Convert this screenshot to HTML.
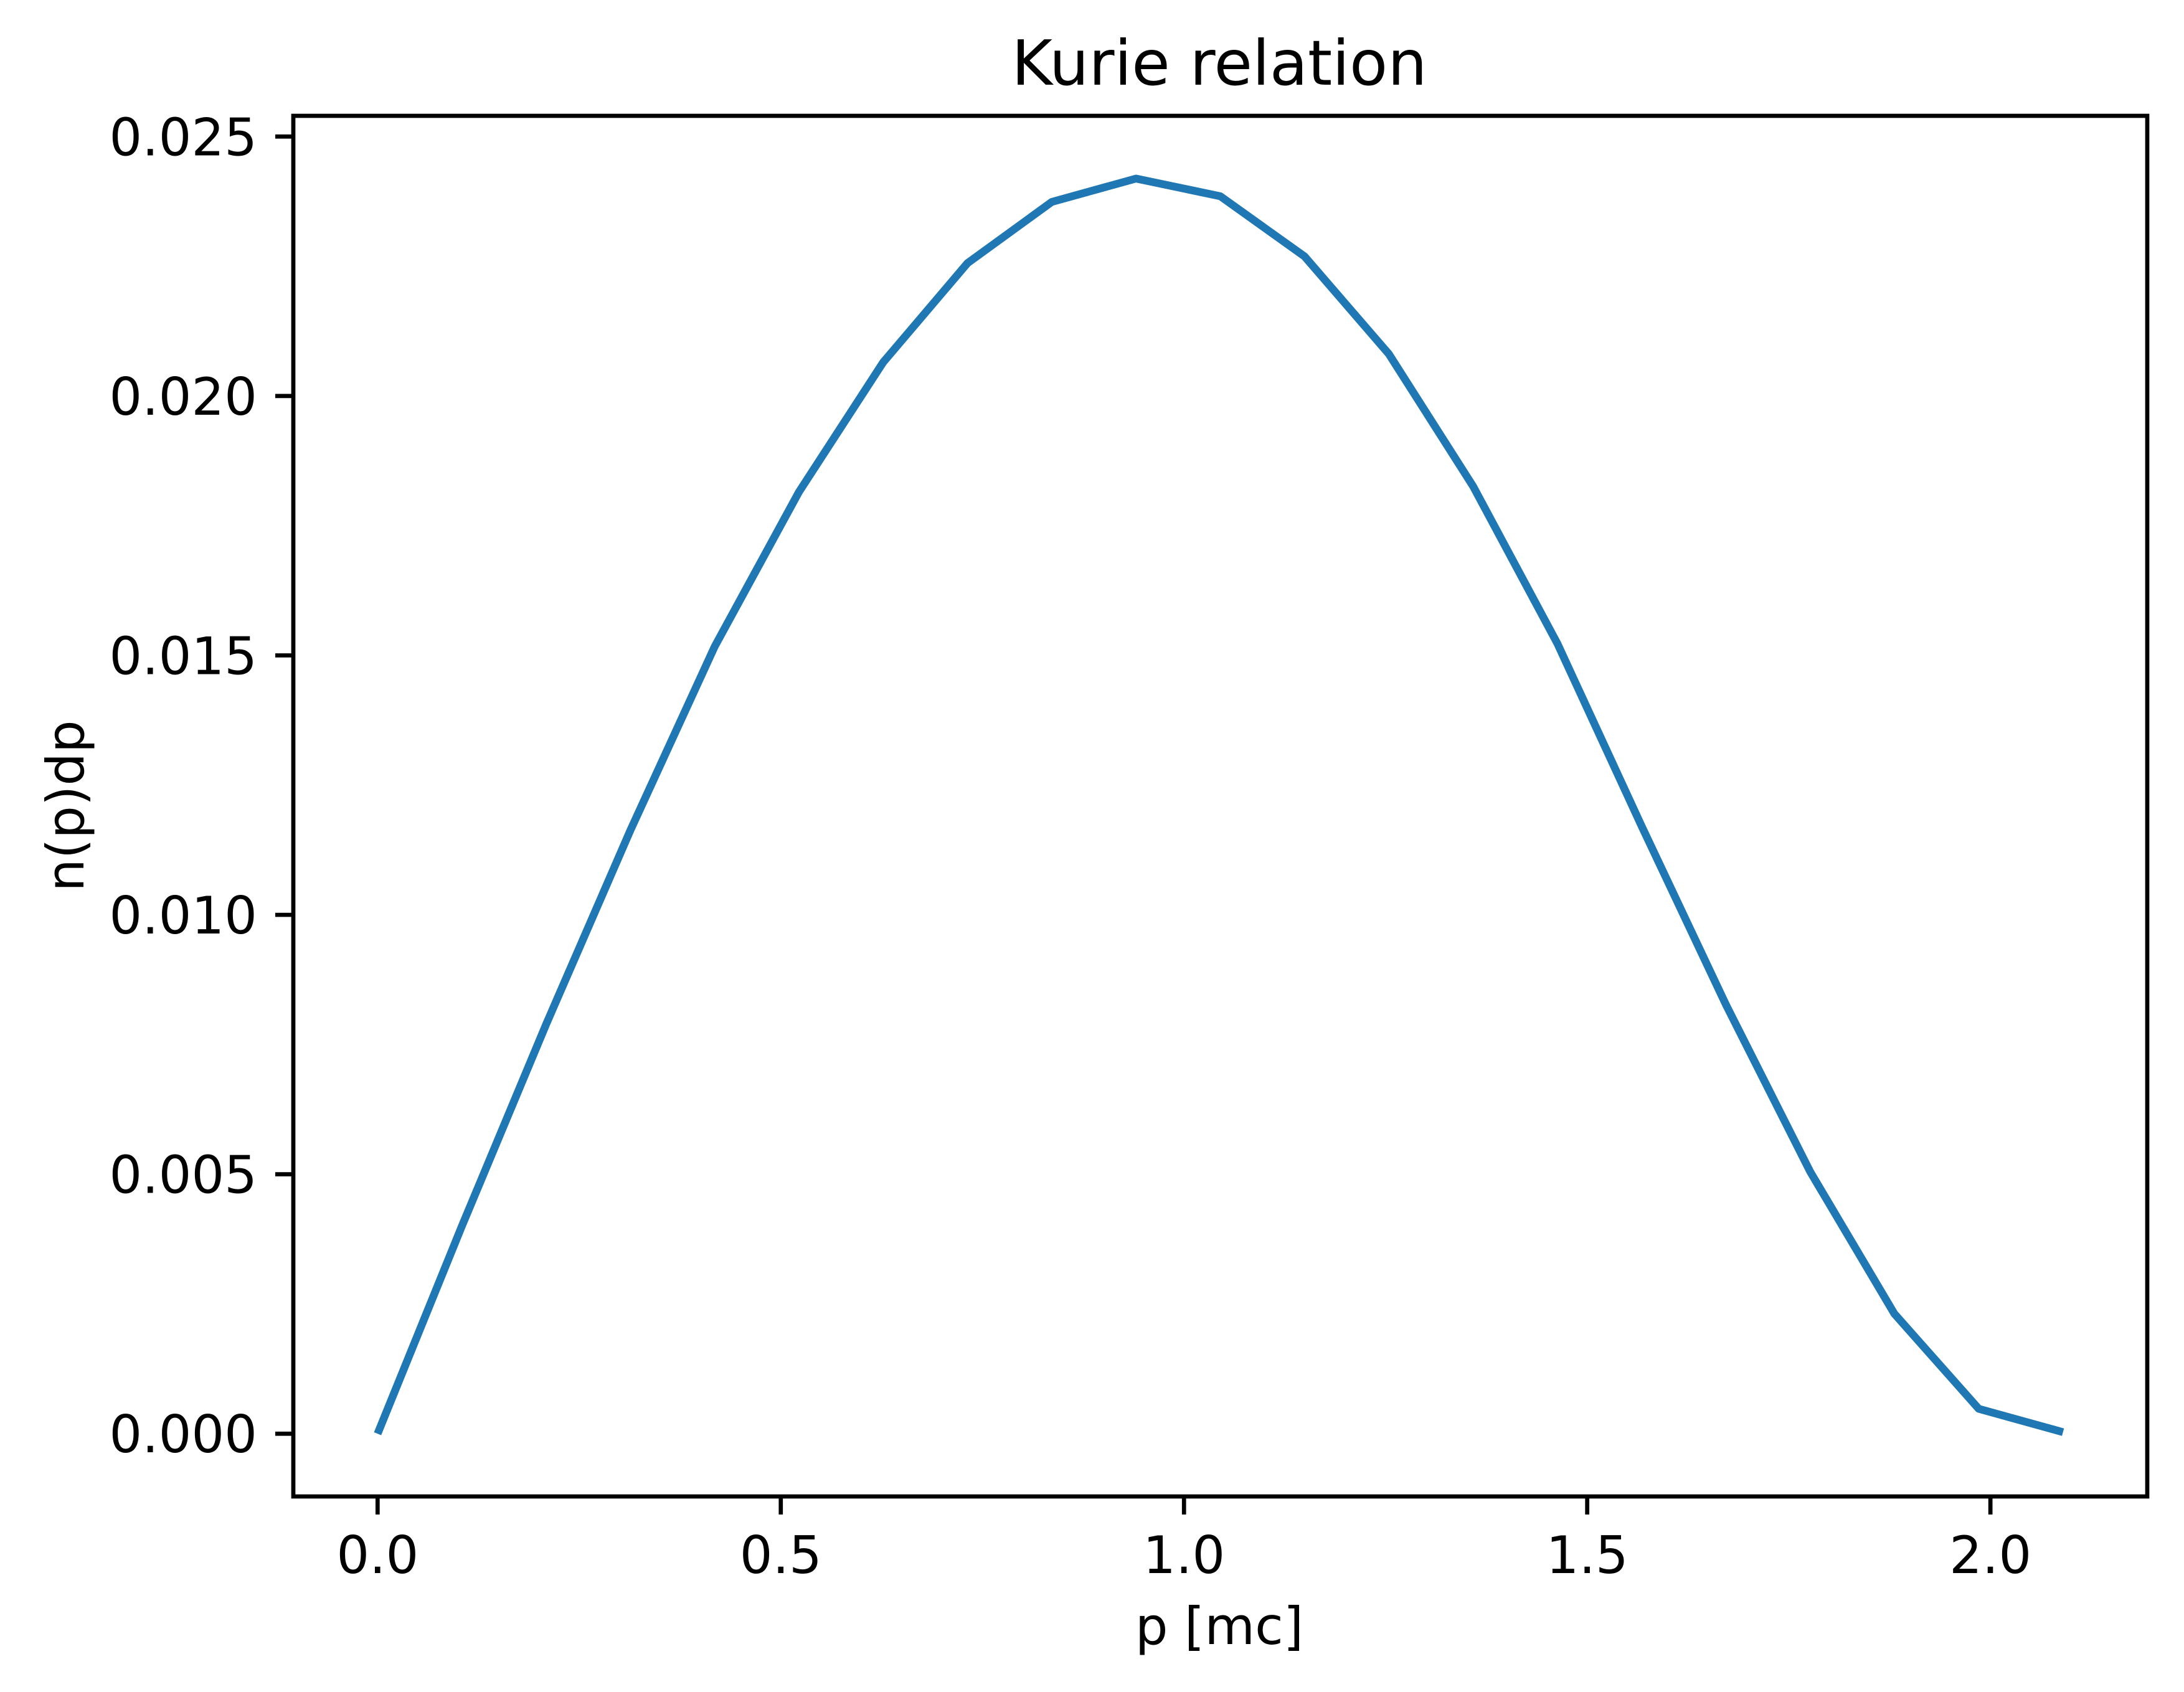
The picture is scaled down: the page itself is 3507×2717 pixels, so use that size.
<!DOCTYPE html>
<html><head><meta charset="utf-8"><style>
html,body{margin:0;padding:0;background:#fff;}
svg{display:block;}
text{font-family:"DejaVu Sans","Liberation Sans",sans-serif;fill:#000;}
</style></head><body>
<svg id="chart" width="3507" height="2717" viewBox="0 0 3507 2717" xmlns="http://www.w3.org/2000/svg">
<rect width="3507" height="2717" fill="#fff"/>
<text x="1958" y="136" font-size="100" text-anchor="middle">Kurie relation</text>
<text x="1958" y="2640" font-size="83" text-anchor="middle">p [mc]</text>
<text x="0" y="0" font-size="83" text-anchor="middle" transform="translate(134,1294) rotate(-90)">n(p)dp</text>
<g id="plot"></g>
</svg>
<script>
const pValues = [0,0.1045,0.209,0.3135,0.418,0.5225,0.627,0.7315,0.836,0.9405,1.045,1.1495,1.254,1.3585,1.463,1.5675,1.672,1.7765,1.881,1.9855,2.09];
const nValues = [0,0.0040,0.00789,0.01163,0.01517,0.01815,0.02065,0.02256,0.02374,0.02419,0.02385,0.02269,0.02081,0.01826,0.01523,0.01171,0.00827,0.00505,0.00231,0.00048,0.00003];
const xTicks = [0,0.5,1.0,1.5,2.0];
const xTickLabels = ["0.0","0.5","1.0","1.5","2.0"];
const yTicks = [0,0.005,0.010,0.015,0.020,0.025];
const yTickLabels = ["0.000","0.005","0.010","0.015","0.020","0.025"];

const L=471,T=186,W=2977,H=2217;
const NS="http://www.w3.org/2000/svg";
const xmin0=Math.min(...pValues),xmax0=Math.max(...pValues);
const ymin0=Math.min(...nValues),ymax0=Math.max(...nValues);
const xm=(xmax0-xmin0)*0.05,ym=(ymax0-ymin0)*0.05;
const xlo=xmin0-xm,xhi=xmax0+xm,ylo=ymin0-ym,yhi=ymax0+ym;
const sx=v=>L+(v-xlo)/(xhi-xlo)*W;
const sy=v=>T+H-(v-ylo)/(yhi-ylo)*H;
const g=document.getElementById('plot');
function mk(tag,attrs){const e=document.createElementNS(NS,tag);for(const k in attrs)e.setAttribute(k,attrs[k]);g.appendChild(e);return e;}

const line=mk('polyline',{points:pValues.map((p,i)=>sx(p)+','+sy(nValues[i])).join(' '),fill:'none',stroke:'#1f77b4','stroke-width':12.5,'stroke-linejoin':'round','stroke-linecap':'butt'});



xTicks.forEach((v,i)=>{
  const x=sx(v);
  const t=mk('line',{x1:x,x2:x,y1:T+H,y2:T+H+29,stroke:'#000','stroke-width':6.7});
  
  
  const tx=mk('text',{x:x,y:2526,'font-size':83,'text-anchor':'middle'});
  tx.textContent=xTickLabels[i];
  
  
});
yTicks.forEach((v,i)=>{
  const y=sy(v);
  const t=mk('line',{x1:L-29,x2:L,y1:y,y2:y,stroke:'#000','stroke-width':6.7});
  
  
  const tx=mk('text',{x:L-58,y:y+30,'font-size':83,'text-anchor':'end'});
  tx.textContent=yTickLabels[i];
  
  
});
const frame=mk('rect',{x:L,y:T,width:W,height:H,fill:'none',stroke:'#000','stroke-width':6.7});


</script>
</body></html>
